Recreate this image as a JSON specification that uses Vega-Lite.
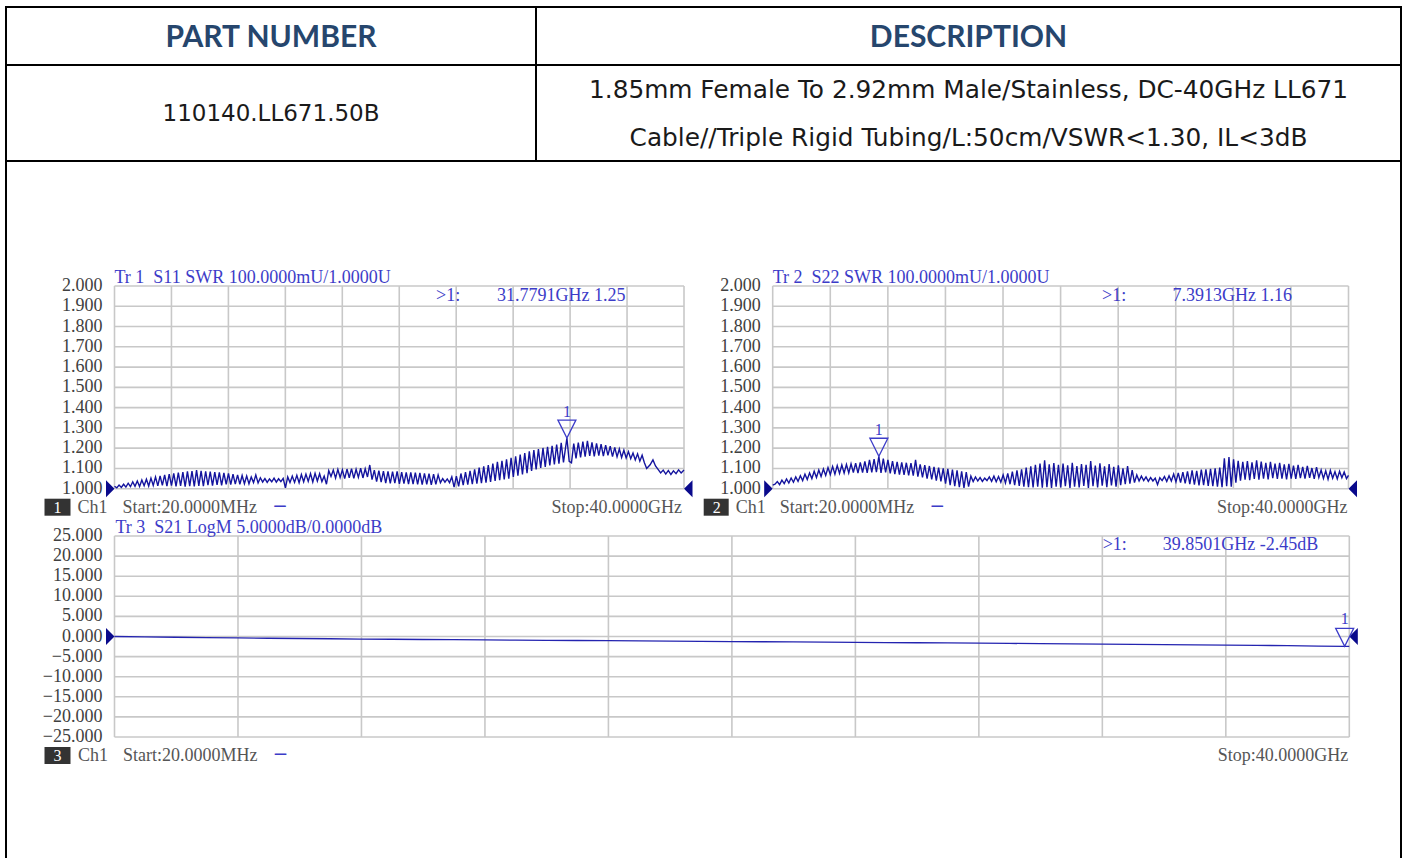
{
"$schema":"https://vega.github.io/schema/vega-lite/v6.json",
"background":"white",
"padding":{"left":5,"top":5,"right":5,"bottom":0},
"spacing":0,
"bounds":"flush",
"config":{"view":{"stroke":"#000000","strokeWidth":2}},
"datasets":{
"freq":[{"f":0.02},{"f":4.018},{"f":8.016},{"f":12.014},{"f":16.012},{"f":20.01},{"f":24.008},{"f":28.006},{"f":32.004},{"f":36.002},{"f":40}],
"swr":[{"v":1.0},{"v":1.1},{"v":1.2},{"v":1.3},{"v":1.4},{"v":1.5},{"v":1.6},{"v":1.7},{"v":1.8},{"v":1.9},{"v":2.0}],
"db":[{"v":-25},{"v":-20},{"v":-15},{"v":-10},{"v":-5},{"v":0},{"v":5},{"v":10},{"v":15},{"v":20},{"v":25}],
"chan":[
{"trace":"S11","n":"1","ch":"Ch1","start":"Start:20.0000MHz","stop":"Stop:40.0000GHz","title":"Tr 1 \u00a0S11 SWR 100.0000mU/1.0000U"},
{"trace":"S22","n":"2","ch":"Ch1","start":"Start:20.0000MHz","stop":"Stop:40.0000GHz","title":"Tr 2 \u00a0S22 SWR 100.0000mU/1.0000U"},
{"trace":"S21","n":"3","ch":"Ch1","start":"Start:20.0000MHz","stop":"Stop:40.0000GHz","title":"Tr 3 \u00a0S21 LogM 5.0000dB/0.0000dB"}],
"markers":[
{"trace":"S11","id":"1","f":31.7791,"v":1.25,"readout":"31.7791GHz 1.25"},
{"trace":"S22","id":"1","f":7.3913,"v":1.16,"readout":"7.3913GHz 1.16"},
{"trace":"S21","id":"1","f":39.8501,"v":-2.45,"readout":"39.8501GHz -2.45dB"}],
"refs":[
{"trace":"S11","side":"left","f":0.02,"v":1.0},{"trace":"S11","side":"right","f":40,"v":1.0},
{"trace":"S22","side":"left","f":0.02,"v":1.0},{"trace":"S22","side":"right","f":40,"v":1.0},
{"trace":"S21","side":"left","f":0.02,"v":0},{"trace":"S21","side":"right","f":40,"v":0}],
"s11":[
{"f":0.02,"v":1.012},{"f":0.18,"v":1.004},{"f":0.34,"v":1.018},{"f":0.5,"v":1.006},{"f":0.66,"v":1.022},{"f":0.82,"v":1.008},{"f":0.98,"v":1.027},{"f":1.14,"v":1.01},{"f":1.3,"v":1.034},{"f":1.46,"v":1.012},
{"f":1.62,"v":1.038},{"f":1.78,"v":1.011},{"f":1.94,"v":1.043},{"f":2.1,"v":1.015},{"f":2.26,"v":1.047},{"f":2.42,"v":1.013},{"f":2.58,"v":1.052},{"f":2.74,"v":1.016},{"f":2.9,"v":1.058},{"f":3.06,"v":1.014},
{"f":3.22,"v":1.063},{"f":3.38,"v":1.017},{"f":3.54,"v":1.068},{"f":3.7,"v":1.013},{"f":3.86,"v":1.072},{"f":4.02,"v":1.015},{"f":4.18,"v":1.076},{"f":4.34,"v":1.011},{"f":4.5,"v":1.079},{"f":4.66,"v":1.014},
{"f":4.82,"v":1.082},{"f":4.98,"v":1.01},{"f":5.14,"v":1.085},{"f":5.3,"v":1.013},{"f":5.46,"v":1.087},{"f":5.62,"v":1.011},{"f":5.78,"v":1.092},{"f":5.94,"v":1.014},{"f":6.1,"v":1.088},{"f":6.26,"v":1.012},
{"f":6.42,"v":1.086},{"f":6.58,"v":1.017},{"f":6.74,"v":1.084},{"f":6.9,"v":1.015},{"f":7.06,"v":1.082},{"f":7.22,"v":1.019},{"f":7.38,"v":1.08},{"f":7.54,"v":1.017},{"f":7.7,"v":1.078},{"f":7.86,"v":1.021},
{"f":8.02,"v":1.076},{"f":8.18,"v":1.02},{"f":8.34,"v":1.072},{"f":8.5,"v":1.023},{"f":8.66,"v":1.068},{"f":8.82,"v":1.022},{"f":8.98,"v":1.065},{"f":9.14,"v":1.025},{"f":9.3,"v":1.063},{"f":9.46,"v":1.024},
{"f":9.62,"v":1.058},{"f":9.78,"v":1.03},{"f":9.94,"v":1.068},{"f":10.1,"v":1.028},{"f":10.26,"v":1.054},{"f":10.42,"v":1.033},{"f":10.58,"v":1.05},{"f":10.74,"v":1.031},{"f":10.9,"v":1.048},{"f":11.06,"v":1.034},
{"f":11.22,"v":1.052},{"f":11.38,"v":1.032},{"f":11.54,"v":1.049},{"f":11.7,"v":1.035},{"f":11.86,"v":1.051},{"f":12.02,"v":1.004},{"f":12.18,"v":1.058},{"f":12.34,"v":1.03},{"f":12.5,"v":1.062},{"f":12.66,"v":1.031},
{"f":12.82,"v":1.066},{"f":12.98,"v":1.029},{"f":13.14,"v":1.07},{"f":13.3,"v":1.034},{"f":13.46,"v":1.072},{"f":13.62,"v":1.036},{"f":13.78,"v":1.075},{"f":13.94,"v":1.033},{"f":14.1,"v":1.076},{"f":14.26,"v":1.038},
{"f":14.42,"v":1.074},{"f":14.58,"v":1.035},{"f":14.74,"v":1.062},{"f":14.9,"v":1.022},{"f":15.06,"v":1.089},{"f":15.22,"v":1.06},{"f":15.38,"v":1.092},{"f":15.54,"v":1.052},{"f":15.7,"v":1.095},{"f":15.86,"v":1.055},
{"f":16.02,"v":1.093},{"f":16.18,"v":1.05},{"f":16.34,"v":1.097},{"f":16.5,"v":1.054},{"f":16.66,"v":1.099},{"f":16.82,"v":1.051},{"f":16.98,"v":1.096},{"f":17.14,"v":1.056},{"f":17.3,"v":1.101},{"f":17.46,"v":1.053},
{"f":17.62,"v":1.098},{"f":17.78,"v":1.058},{"f":17.94,"v":1.117},{"f":18.1,"v":1.045},{"f":18.26,"v":1.092},{"f":18.42,"v":1.035},{"f":18.58,"v":1.089},{"f":18.74,"v":1.032},{"f":18.9,"v":1.087},{"f":19.06,"v":1.028},
{"f":19.22,"v":1.086},{"f":19.38,"v":1.026},{"f":19.54,"v":1.084},{"f":19.7,"v":1.027},{"f":19.86,"v":1.085},{"f":20.02,"v":1.024},{"f":20.18,"v":1.082},{"f":20.34,"v":1.025},{"f":20.5,"v":1.081},{"f":20.66,"v":1.022},
{"f":20.82,"v":1.08},{"f":20.98,"v":1.023},{"f":21.14,"v":1.079},{"f":21.3,"v":1.021},{"f":21.46,"v":1.078},{"f":21.62,"v":1.02},{"f":21.78,"v":1.076},{"f":21.94,"v":1.022},{"f":22.1,"v":1.074},{"f":22.26,"v":1.019},
{"f":22.42,"v":1.072},{"f":22.58,"v":1.021},{"f":22.74,"v":1.068},{"f":22.9,"v":1.03},{"f":23.06,"v":1.05},{"f":23.22,"v":1.032},{"f":23.38,"v":1.048},{"f":23.54,"v":1.03},{"f":23.7,"v":1.058},{"f":23.86,"v":1.008},
{"f":24.02,"v":1.062},{"f":24.18,"v":1.012},{"f":24.34,"v":1.075},{"f":24.5,"v":1.018},{"f":24.66,"v":1.082},{"f":24.82,"v":1.02},{"f":24.98,"v":1.088},{"f":25.14,"v":1.022},{"f":25.3,"v":1.096},{"f":25.46,"v":1.025},
{"f":25.62,"v":1.104},{"f":25.78,"v":1.027},{"f":25.94,"v":1.11},{"f":26.1,"v":1.03},{"f":26.26,"v":1.116},{"f":26.42,"v":1.034},{"f":26.58,"v":1.124},{"f":26.74,"v":1.038},{"f":26.9,"v":1.132},{"f":27.06,"v":1.042},
{"f":27.22,"v":1.138},{"f":27.38,"v":1.046},{"f":27.54,"v":1.145},{"f":27.7,"v":1.05},{"f":27.86,"v":1.152},{"f":28.02,"v":1.058},{"f":28.18,"v":1.16},{"f":28.34,"v":1.064},{"f":28.5,"v":1.168},{"f":28.66,"v":1.07},
{"f":28.82,"v":1.176},{"f":28.98,"v":1.077},{"f":29.14,"v":1.184},{"f":29.3,"v":1.088},{"f":29.46,"v":1.19},{"f":29.62,"v":1.095},{"f":29.78,"v":1.196},{"f":29.94,"v":1.102},{"f":30.1,"v":1.201},{"f":30.26,"v":1.108},
{"f":30.42,"v":1.206},{"f":30.58,"v":1.115},{"f":30.74,"v":1.212},{"f":30.9,"v":1.12},{"f":31.06,"v":1.218},{"f":31.22,"v":1.123},{"f":31.38,"v":1.226},{"f":31.54,"v":1.13},{"f":31.78,"v":1.25},{"f":31.94,"v":1.135},
{"f":32.1,"v":1.128},{"f":32.26,"v":1.222},{"f":32.42,"v":1.15},{"f":32.58,"v":1.228},{"f":32.74,"v":1.155},{"f":32.9,"v":1.232},{"f":33.06,"v":1.158},{"f":33.22,"v":1.236},{"f":33.38,"v":1.162},{"f":33.54,"v":1.228},
{"f":33.7,"v":1.16},{"f":33.86,"v":1.224},{"f":34.02,"v":1.163},{"f":34.18,"v":1.22},{"f":34.34,"v":1.161},{"f":34.5,"v":1.215},{"f":34.66,"v":1.164},{"f":34.82,"v":1.21},{"f":34.98,"v":1.158},{"f":35.14,"v":1.204},
{"f":35.3,"v":1.157},{"f":35.46,"v":1.196},{"f":35.62,"v":1.154},{"f":35.78,"v":1.19},{"f":35.94,"v":1.152},{"f":36.1,"v":1.183},{"f":36.26,"v":1.148},{"f":36.42,"v":1.176},{"f":36.58,"v":1.142},{"f":36.74,"v":1.172},
{"f":36.9,"v":1.136},{"f":37.06,"v":1.165},{"f":37.22,"v":1.128},{"f":37.38,"v":1.1},{"f":37.62,"v":1.118},{"f":37.82,"v":1.142},{"f":38.0,"v":1.112},{"f":38.18,"v":1.095},{"f":38.36,"v":1.078},{"f":38.54,"v":1.092},
{"f":38.72,"v":1.072},{"f":38.9,"v":1.09},{"f":39.08,"v":1.07},{"f":39.26,"v":1.088},{"f":39.44,"v":1.074},{"f":39.62,"v":1.093},{"f":39.8,"v":1.078},{"f":40.0,"v":1.092}],
"s22":[
{"f":0.02,"v":1.018},{"f":0.18,"v":1.022},{"f":0.34,"v":1.035},{"f":0.5,"v":1.02},{"f":0.66,"v":1.042},{"f":0.82,"v":1.025},{"f":0.98,"v":1.048},{"f":1.14,"v":1.028},{"f":1.3,"v":1.053},{"f":1.46,"v":1.032},
{"f":1.62,"v":1.058},{"f":1.78,"v":1.036},{"f":1.94,"v":1.064},{"f":2.1,"v":1.04},{"f":2.26,"v":1.072},{"f":2.42,"v":1.045},{"f":2.58,"v":1.078},{"f":2.74,"v":1.05},{"f":2.9,"v":1.086},{"f":3.06,"v":1.055},
{"f":3.22,"v":1.092},{"f":3.38,"v":1.06},{"f":3.54,"v":1.097},{"f":3.7,"v":1.065},{"f":3.86,"v":1.104},{"f":4.02,"v":1.07},{"f":4.18,"v":1.11},{"f":4.34,"v":1.072},{"f":4.5,"v":1.114},{"f":4.66,"v":1.075},
{"f":4.82,"v":1.117},{"f":4.98,"v":1.077},{"f":5.14,"v":1.12},{"f":5.3,"v":1.078},{"f":5.46,"v":1.123},{"f":5.62,"v":1.08},{"f":5.78,"v":1.126},{"f":5.94,"v":1.077},{"f":6.1,"v":1.13},{"f":6.26,"v":1.08},
{"f":6.42,"v":1.135},{"f":6.58,"v":1.078},{"f":6.74,"v":1.142},{"f":6.9,"v":1.08},{"f":7.06,"v":1.146},{"f":7.22,"v":1.082},{"f":7.39,"v":1.16},{"f":7.54,"v":1.078},{"f":7.7,"v":1.148},{"f":7.86,"v":1.08},
{"f":8.02,"v":1.142},{"f":8.18,"v":1.076},{"f":8.34,"v":1.136},{"f":8.5,"v":1.072},{"f":8.66,"v":1.132},{"f":8.82,"v":1.07},{"f":8.98,"v":1.13},{"f":9.14,"v":1.068},{"f":9.3,"v":1.128},{"f":9.46,"v":1.066},
{"f":9.62,"v":1.126},{"f":9.78,"v":1.064},{"f":9.94,"v":1.142},{"f":10.1,"v":1.06},{"f":10.26,"v":1.12},{"f":10.42,"v":1.056},{"f":10.58,"v":1.116},{"f":10.74,"v":1.05},{"f":10.9,"v":1.112},{"f":11.06,"v":1.046},
{"f":11.22,"v":1.108},{"f":11.38,"v":1.04},{"f":11.54,"v":1.104},{"f":11.7,"v":1.036},{"f":11.86,"v":1.1},{"f":12.02,"v":1.025},{"f":12.18,"v":1.098},{"f":12.34,"v":1.018},{"f":12.5,"v":1.094},{"f":12.66,"v":1.012},
{"f":12.82,"v":1.09},{"f":12.98,"v":1.008},{"f":13.14,"v":1.086},{"f":13.3,"v":1.004},{"f":13.46,"v":1.082},{"f":13.62,"v":1.01},{"f":13.78,"v":1.062},{"f":13.94,"v":1.035},{"f":14.1,"v":1.058},{"f":14.26,"v":1.038},
{"f":14.42,"v":1.055},{"f":14.58,"v":1.036},{"f":14.74,"v":1.052},{"f":14.9,"v":1.04},{"f":15.06,"v":1.058},{"f":15.22,"v":1.036},{"f":15.38,"v":1.062},{"f":15.54,"v":1.034},{"f":15.7,"v":1.06},{"f":15.86,"v":1.032},
{"f":16.02,"v":1.068},{"f":16.18,"v":1.028},{"f":16.34,"v":1.076},{"f":16.5,"v":1.022},{"f":16.66,"v":1.084},{"f":16.82,"v":1.018},{"f":16.98,"v":1.09},{"f":17.14,"v":1.014},{"f":17.3,"v":1.096},{"f":17.46,"v":1.01},
{"f":17.62,"v":1.104},{"f":17.78,"v":1.008},{"f":17.94,"v":1.11},{"f":18.1,"v":1.006},{"f":18.26,"v":1.118},{"f":18.42,"v":1.01},{"f":18.58,"v":1.124},{"f":18.74,"v":1.005},{"f":18.9,"v":1.14},{"f":19.06,"v":1.008},
{"f":19.22,"v":1.12},{"f":19.38,"v":1.004},{"f":19.54,"v":1.126},{"f":19.7,"v":1.01},{"f":19.86,"v":1.118},{"f":20.02,"v":1.006},{"f":20.18,"v":1.124},{"f":20.34,"v":1.012},{"f":20.5,"v":1.115},{"f":20.66,"v":1.004},
{"f":20.82,"v":1.128},{"f":20.98,"v":1.01},{"f":21.14,"v":1.112},{"f":21.3,"v":1.006},{"f":21.46,"v":1.122},{"f":21.62,"v":1.014},{"f":21.78,"v":1.118},{"f":21.94,"v":1.004},{"f":22.1,"v":1.136},{"f":22.26,"v":1.012},
{"f":22.42,"v":1.114},{"f":22.58,"v":1.006},{"f":22.74,"v":1.125},{"f":22.9,"v":1.015},{"f":23.06,"v":1.11},{"f":23.22,"v":1.008},{"f":23.38,"v":1.122},{"f":23.54,"v":1.016},{"f":23.7,"v":1.108},{"f":23.86,"v":1.01},
{"f":24.02,"v":1.115},{"f":24.18,"v":1.018},{"f":24.34,"v":1.1},{"f":24.5,"v":1.022},{"f":24.66,"v":1.112},{"f":24.82,"v":1.025},{"f":24.98,"v":1.092},{"f":25.14,"v":1.03},{"f":25.3,"v":1.068},{"f":25.46,"v":1.038},
{"f":25.62,"v":1.062},{"f":25.78,"v":1.04},{"f":25.94,"v":1.058},{"f":26.1,"v":1.036},{"f":26.26,"v":1.055},{"f":26.42,"v":1.038},{"f":26.58,"v":1.052},{"f":26.74,"v":1.02},{"f":26.9,"v":1.054},{"f":27.06,"v":1.04},
{"f":27.22,"v":1.06},{"f":27.38,"v":1.036},{"f":27.54,"v":1.064},{"f":27.7,"v":1.038},{"f":27.86,"v":1.072},{"f":28.02,"v":1.034},{"f":28.18,"v":1.078},{"f":28.34,"v":1.03},{"f":28.5,"v":1.082},{"f":28.66,"v":1.026},
{"f":28.82,"v":1.086},{"f":28.98,"v":1.022},{"f":29.14,"v":1.09},{"f":29.3,"v":1.02},{"f":29.46,"v":1.088},{"f":29.62,"v":1.016},{"f":29.78,"v":1.094},{"f":29.94,"v":1.018},{"f":30.1,"v":1.096},{"f":30.26,"v":1.014},
{"f":30.42,"v":1.098},{"f":30.58,"v":1.012},{"f":30.74,"v":1.1},{"f":30.9,"v":1.01},{"f":31.06,"v":1.104},{"f":31.22,"v":1.008},{"f":31.38,"v":1.15},{"f":31.54,"v":1.012},{"f":31.7,"v":1.156},{"f":31.86,"v":1.01},
{"f":32.02,"v":1.145},{"f":32.18,"v":1.03},{"f":32.34,"v":1.138},{"f":32.5,"v":1.04},{"f":32.66,"v":1.132},{"f":32.82,"v":1.045},{"f":32.98,"v":1.136},{"f":33.14,"v":1.042},{"f":33.3,"v":1.13},{"f":33.46,"v":1.048},
{"f":33.62,"v":1.14},{"f":33.78,"v":1.045},{"f":33.94,"v":1.134},{"f":34.1,"v":1.05},{"f":34.26,"v":1.128},{"f":34.42,"v":1.046},{"f":34.58,"v":1.132},{"f":34.74,"v":1.052},{"f":34.9,"v":1.124},{"f":35.06,"v":1.048},
{"f":35.22,"v":1.128},{"f":35.38,"v":1.05},{"f":35.54,"v":1.12},{"f":35.7,"v":1.046},{"f":35.86,"v":1.122},{"f":36.02,"v":1.05},{"f":36.18,"v":1.114},{"f":36.34,"v":1.048},{"f":36.5,"v":1.118},{"f":36.66,"v":1.052},
{"f":36.82,"v":1.108},{"f":36.98,"v":1.05},{"f":37.14,"v":1.112},{"f":37.3,"v":1.054},{"f":37.46,"v":1.102},{"f":37.62,"v":1.048},{"f":37.78,"v":1.106},{"f":37.94,"v":1.055},{"f":38.1,"v":1.092},{"f":38.26,"v":1.05},
{"f":38.42,"v":1.088},{"f":38.58,"v":1.046},{"f":38.74,"v":1.09},{"f":38.9,"v":1.052},{"f":39.06,"v":1.084},{"f":39.22,"v":1.048},{"f":39.38,"v":1.086},{"f":39.54,"v":1.054},{"f":39.7,"v":1.082},{"f":39.86,"v":1.05},{"f":40.0,"v":1.066}],
"s21":[
{"f":0.02,"v":0.0},{"f":1,"v":-0.1},{"f":2,"v":-0.19},{"f":3,"v":-0.27},{"f":4,"v":-0.36},{"f":5,"v":-0.43},{"f":6,"v":-0.5},{"f":7,"v":-0.56},{"f":8,"v":-0.63},{"f":9,"v":-0.68},
{"f":10,"v":-0.74},{"f":11,"v":-0.8},{"f":12,"v":-0.85},{"f":13,"v":-0.9},{"f":14,"v":-0.95},{"f":15,"v":-1.0},{"f":16,"v":-1.05},{"f":17,"v":-1.1},{"f":18,"v":-1.15},{"f":19,"v":-1.2},
{"f":20,"v":-1.25},{"f":21,"v":-1.3},{"f":22,"v":-1.35},{"f":23,"v":-1.4},{"f":24,"v":-1.45},{"f":25,"v":-1.5},{"f":26,"v":-1.56},{"f":27,"v":-1.61},{"f":28,"v":-1.67},{"f":29,"v":-1.72},
{"f":30,"v":-1.78},{"f":31,"v":-1.83},{"f":32,"v":-1.89},{"f":33,"v":-1.95},{"f":34,"v":-2.01},{"f":35,"v":-2.07},{"f":36,"v":-2.13},{"f":37,"v":-2.2},{"f":38,"v":-2.29},{"f":39,"v":-2.38},{"f":39.85,"v":-2.45},{"f":40,"v":-2.46}]
},
"vconcat":[
{"width":1395,"height":58,
 "layer":[
  {"data":{"values":[{"edge":"divider"}]},"mark":{"type":"rule","color":"#000000","strokeWidth":2},"encoding":{"x":{"value":530},"y":{"value":0},"y2":{"value":"height"}}},
  {"data":{"values":[{"col":"PART NUMBER","t":"PART NUMBER"},{"col":"DESCRIPTION","t":"DESCRIPTION"}]},"mark":{"type":"text","font":"Lato","fontWeight":"bold","fontSize":30,"color":"#26466d","baseline":"middle","dy":2},"encoding":{"x":{"field":"col","type":"nominal","scale":{"type":"point","domain":["PART NUMBER","DESCRIPTION"],"range":[265,962.5],"padding":0},"axis":null},"text":{"field":"t","type":"nominal"}}}
 ]},
{"width":1395,"height":96,
 "layer":[
  {"data":{"values":[{"edge":"divider"}]},"mark":{"type":"rule","color":"#000000","strokeWidth":2},"encoding":{"x":{"value":530},"y":{"value":0},"y2":{"value":"height"}}},
  {"data":{"values":[{"col":"PART NUMBER","t":"110140.LL671.50B"}]},"mark":{"type":"text","font":"DejaVu Sans","fontSize":23,"color":"#1a1a1a","baseline":"middle","dy":1},"encoding":{"x":{"field":"col","type":"nominal","scale":{"type":"point","domain":["PART NUMBER","DESCRIPTION"],"range":[265,962.5],"padding":0},"axis":null},"text":{"field":"t","type":"nominal"}}},
  {"data":{"values":[{"col":"DESCRIPTION","line":"first","t":"1.85mm Female To 2.92mm Male/Stainless, DC-40GHz LL671"},{"col":"DESCRIPTION","line":"second","t":"Cable//Triple Rigid Tubing/L:50cm/VSWR<1.30, IL<3dB"}]},"mark":{"type":"text","font":"DejaVu Sans","fontSize":24.8,"color":"#1a1a1a","baseline":"middle"},"encoding":{"x":{"field":"col","type":"nominal","axis":null},"y":{"field":"line","type":"nominal","scale":{"type":"point","domain":["first","second"],"range":[26,74],"padding":0},"axis":null},"text":{"field":"t","type":"nominal"}}}
 ]},
{"width":1395,"height":697,"view":{"stroke":null},
 "resolve":{"scale":{"x":"independent","y":"independent"}},
 "layer":[
  {"data":{"values":[{"side":"left"}]},"mark":{"type":"rule","color":"#000000","strokeWidth":2},"encoding":{"x":{"value":0},"y":{"value":0},"y2":{"value":"height"}}},
  {"data":{"values":[{"side":"right"}]},"mark":{"type":"rule","color":"#000000","strokeWidth":2},"encoding":{"x":{"value":"width"},"y":{"value":0},"y2":{"value":"height"}}},
  {"layer":[
   {"data":{"name":"freq"},"mark":{"type":"rule","color":"#c8c8c8","strokeWidth":1.6},"encoding":{"x":{"field":"f","type":"quantitative","scale":{"domain":[0.02,40],"range":[108.5,678],"nice":false,"zero":false},"axis":null},"y":{"datum":1,"type":"quantitative","scale":{"domain":[1,2],"range":[327.7,125],"nice":false,"zero":false},"axis":null},"y2":{"datum":2}}},
   {"data":{"name":"swr"},"mark":{"type":"rule","color":"#c8c8c8","strokeWidth":1.6},"encoding":{"y":{"field":"v","type":"quantitative","axis":null},"x":{"datum":0.02,"type":"quantitative","axis":null},"x2":{"datum":40}}},
   {"data":{"name":"swr"},"mark":{"type":"text","align":"right","baseline":"middle","dx":-12,"font":"Liberation Serif","fontSize":18,"color":"#404040"},"encoding":{"y":{"field":"v","type":"quantitative","axis":null},"x":{"datum":0.02,"type":"quantitative","axis":null},"text":{"field":"v","type":"quantitative","format":".3f"}}},
   {"data":{"name":"s11"},"mark":{"type":"line","color":"#14149e","strokeWidth":1.4},"encoding":{"x":{"field":"f","type":"quantitative","axis":null},"y":{"field":"v","type":"quantitative","axis":null}}},
   {"data":{"name":"refs"},"transform":[{"filter":"datum.trace == 'S11'"}],"mark":{"type":"point","filled":true,"size":289,"color":"#0a0a8c","opacity":1},"encoding":{"x":{"field":"f","type":"quantitative","axis":null},"y":{"field":"v","type":"quantitative","axis":null},"shape":{"field":"side","type":"nominal","scale":{"domain":["left","right"],"range":["M-1,-1L0,0L-1,1Z","M1,-1L0,0L1,1Z"]},"legend":null}}},
   {"data":{"name":"markers"},"transform":[{"filter":"datum.trace == 'S11'"}],"mark":{"type":"point","shape":"M-1,-2L1,-2L0,0Z","size":324,"filled":false,"color":"#3c3cc8","strokeWidth":1.3,"opacity":1},"encoding":{"x":{"field":"f","type":"quantitative","axis":null},"y":{"field":"v","type":"quantitative","axis":null}}},
   {"data":{"name":"markers"},"transform":[{"filter":"datum.trace == 'S11'"}],"mark":{"type":"text","dy":-26,"baseline":"middle","font":"Liberation Serif","fontSize":16,"color":"#3c3cc8"},"encoding":{"x":{"field":"f","type":"quantitative","axis":null},"y":{"field":"v","type":"quantitative","axis":null},"text":{"field":"id","type":"nominal"}}},
   {"data":{"name":"markers"},"transform":[{"filter":"datum.trace == 'S11'"}],"mark":{"type":"text","align":"left","baseline":"middle","dx":-248,"dy":10,"font":"Liberation Serif","fontSize":18,"color":"#3c3cc8","text":">1:"},"encoding":{"x":{"datum":40,"type":"quantitative","axis":null},"y":{"datum":2,"type":"quantitative","axis":null}}},
   {"data":{"name":"markers"},"transform":[{"filter":"datum.trace == 'S11'"}],"mark":{"type":"text","align":"left","baseline":"middle","dx":-187,"dy":10,"font":"Liberation Serif","fontSize":18,"color":"#3c3cc8"},"encoding":{"x":{"datum":40,"type":"quantitative","axis":null},"y":{"datum":2,"type":"quantitative","axis":null},"text":{"field":"readout","type":"nominal"}}},
   {"data":{"name":"chan"},"transform":[{"filter":"datum.trace == 'S11'"}],"mark":{"type":"text","align":"left","baseline":"alphabetic","dy":-3,"font":"Liberation Serif","fontSize":18,"color":"#3c3cc8"},"encoding":{"x":{"datum":0.02,"type":"quantitative","axis":null},"y":{"datum":2,"type":"quantitative","axis":null},"text":{"field":"title","type":"nominal"}}},
   {"data":{"name":"chan"},"transform":[{"filter":"datum.trace == 'S11'"}],"mark":{"type":"point","shape":"M-7.0,1.0H-4.4V2.7H-7.0Z","size":400,"filled":true,"color":"#333333","opacity":1},"encoding":{"x":{"datum":0.02,"type":"quantitative","axis":null},"y":{"datum":1,"type":"quantitative","axis":null}}},
   {"data":{"name":"chan"},"transform":[{"filter":"datum.trace == 'S11'"}],"mark":{"type":"text","align":"center","baseline":"middle","dx":-57,"dy":19,"font":"Liberation Serif","fontSize":16,"color":"#ffffff"},"encoding":{"x":{"datum":0.02,"type":"quantitative","axis":null},"y":{"datum":1,"type":"quantitative","axis":null},"text":{"field":"n","type":"nominal"}}},
   {"data":{"name":"chan"},"transform":[{"filter":"datum.trace == 'S11'"}],"mark":{"type":"text","align":"left","baseline":"middle","dx":-37,"dy":19,"font":"Liberation Serif","fontSize":18,"color":"#555555"},"encoding":{"x":{"datum":0.02,"type":"quantitative","axis":null},"y":{"datum":1,"type":"quantitative","axis":null},"text":{"field":"ch","type":"nominal"}}},
   {"data":{"name":"chan"},"transform":[{"filter":"datum.trace == 'S11'"}],"mark":{"type":"text","align":"left","baseline":"middle","dx":8,"dy":19,"font":"Liberation Serif","fontSize":18,"color":"#555555"},"encoding":{"x":{"datum":0.02,"type":"quantitative","axis":null},"y":{"datum":1,"type":"quantitative","axis":null},"text":{"field":"start","type":"nominal"}}},
   {"data":{"name":"chan"},"transform":[{"filter":"datum.trace == 'S11'"}],"mark":{"type":"text","align":"left","baseline":"middle","dx":159,"dy":17,"font":"DejaVu Sans","fontWeight":"bold","fontSize":13,"color":"#3c3cc8","text":"—"},"encoding":{"x":{"datum":0.02,"type":"quantitative","axis":null},"y":{"datum":1,"type":"quantitative","axis":null}}},
   {"data":{"name":"chan"},"transform":[{"filter":"datum.trace == 'S11'"}],"mark":{"type":"text","align":"right","baseline":"middle","dx":-2,"dy":19,"font":"Liberation Serif","fontSize":18,"color":"#555555"},"encoding":{"x":{"datum":40,"type":"quantitative","axis":null},"y":{"datum":1,"type":"quantitative","axis":null},"text":{"field":"stop","type":"nominal"}}}
  ]},
  {"layer":[
   {"data":{"name":"freq"},"mark":{"type":"rule","color":"#c8c8c8","strokeWidth":1.6},"encoding":{"x":{"field":"f","type":"quantitative","scale":{"domain":[0.02,40],"range":[766.7,1342.5],"nice":false,"zero":false},"axis":null},"y":{"datum":1,"type":"quantitative","scale":{"domain":[1,2],"range":[327.7,125],"nice":false,"zero":false},"axis":null},"y2":{"datum":2}}},
   {"data":{"name":"swr"},"mark":{"type":"rule","color":"#c8c8c8","strokeWidth":1.6},"encoding":{"y":{"field":"v","type":"quantitative","axis":null},"x":{"datum":0.02,"type":"quantitative","axis":null},"x2":{"datum":40}}},
   {"data":{"name":"swr"},"mark":{"type":"text","align":"right","baseline":"middle","dx":-12,"font":"Liberation Serif","fontSize":18,"color":"#404040"},"encoding":{"y":{"field":"v","type":"quantitative","axis":null},"x":{"datum":0.02,"type":"quantitative","axis":null},"text":{"field":"v","type":"quantitative","format":".3f"}}},
   {"data":{"name":"s22"},"mark":{"type":"line","color":"#14149e","strokeWidth":1.4},"encoding":{"x":{"field":"f","type":"quantitative","axis":null},"y":{"field":"v","type":"quantitative","axis":null}}},
   {"data":{"name":"refs"},"transform":[{"filter":"datum.trace == 'S22'"}],"mark":{"type":"point","filled":true,"size":289,"color":"#0a0a8c","opacity":1},"encoding":{"x":{"field":"f","type":"quantitative","axis":null},"y":{"field":"v","type":"quantitative","axis":null},"shape":{"field":"side","type":"nominal","scale":{"domain":["left","right"],"range":["M-1,-1L0,0L-1,1Z","M1,-1L0,0L1,1Z"]},"legend":null}}},
   {"data":{"name":"markers"},"transform":[{"filter":"datum.trace == 'S22'"}],"mark":{"type":"point","shape":"M-1,-2L1,-2L0,0Z","size":324,"filled":false,"color":"#3c3cc8","strokeWidth":1.3,"opacity":1},"encoding":{"x":{"field":"f","type":"quantitative","axis":null},"y":{"field":"v","type":"quantitative","axis":null}}},
   {"data":{"name":"markers"},"transform":[{"filter":"datum.trace == 'S22'"}],"mark":{"type":"text","dy":-26,"baseline":"middle","font":"Liberation Serif","fontSize":16,"color":"#3c3cc8"},"encoding":{"x":{"field":"f","type":"quantitative","axis":null},"y":{"field":"v","type":"quantitative","axis":null},"text":{"field":"id","type":"nominal"}}},
   {"data":{"name":"markers"},"transform":[{"filter":"datum.trace == 'S22'"}],"mark":{"type":"text","align":"left","baseline":"middle","dx":-246.5,"dy":10,"font":"Liberation Serif","fontSize":18,"color":"#3c3cc8","text":">1:"},"encoding":{"x":{"datum":40,"type":"quantitative","axis":null},"y":{"datum":2,"type":"quantitative","axis":null}}},
   {"data":{"name":"markers"},"transform":[{"filter":"datum.trace == 'S22'"}],"mark":{"type":"text","align":"left","baseline":"middle","dx":-176,"dy":10,"font":"Liberation Serif","fontSize":18,"color":"#3c3cc8"},"encoding":{"x":{"datum":40,"type":"quantitative","axis":null},"y":{"datum":2,"type":"quantitative","axis":null},"text":{"field":"readout","type":"nominal"}}},
   {"data":{"name":"chan"},"transform":[{"filter":"datum.trace == 'S22'"}],"mark":{"type":"text","align":"left","baseline":"alphabetic","dy":-3,"font":"Liberation Serif","fontSize":18,"color":"#3c3cc8"},"encoding":{"x":{"datum":0.02,"type":"quantitative","axis":null},"y":{"datum":2,"type":"quantitative","axis":null},"text":{"field":"title","type":"nominal"}}},
   {"data":{"name":"chan"},"transform":[{"filter":"datum.trace == 'S22'"}],"mark":{"type":"point","shape":"M-6.9,1.0H-4.4V2.7H-6.9Z","size":400,"filled":true,"color":"#333333","opacity":1},"encoding":{"x":{"datum":0.02,"type":"quantitative","axis":null},"y":{"datum":1,"type":"quantitative","axis":null}}},
   {"data":{"name":"chan"},"transform":[{"filter":"datum.trace == 'S22'"}],"mark":{"type":"text","align":"center","baseline":"middle","dx":-56,"dy":19,"font":"Liberation Serif","fontSize":16,"color":"#ffffff"},"encoding":{"x":{"datum":0.02,"type":"quantitative","axis":null},"y":{"datum":1,"type":"quantitative","axis":null},"text":{"field":"n","type":"nominal"}}},
   {"data":{"name":"chan"},"transform":[{"filter":"datum.trace == 'S22'"}],"mark":{"type":"text","align":"left","baseline":"middle","dx":-37,"dy":19,"font":"Liberation Serif","fontSize":18,"color":"#555555"},"encoding":{"x":{"datum":0.02,"type":"quantitative","axis":null},"y":{"datum":1,"type":"quantitative","axis":null},"text":{"field":"ch","type":"nominal"}}},
   {"data":{"name":"chan"},"transform":[{"filter":"datum.trace == 'S22'"}],"mark":{"type":"text","align":"left","baseline":"middle","dx":7,"dy":19,"font":"Liberation Serif","fontSize":18,"color":"#555555"},"encoding":{"x":{"datum":0.02,"type":"quantitative","axis":null},"y":{"datum":1,"type":"quantitative","axis":null},"text":{"field":"start","type":"nominal"}}},
   {"data":{"name":"chan"},"transform":[{"filter":"datum.trace == 'S22'"}],"mark":{"type":"text","align":"left","baseline":"middle","dx":158,"dy":17,"font":"DejaVu Sans","fontWeight":"bold","fontSize":13,"color":"#3c3cc8","text":"—"},"encoding":{"x":{"datum":0.02,"type":"quantitative","axis":null},"y":{"datum":1,"type":"quantitative","axis":null}}},
   {"data":{"name":"chan"},"transform":[{"filter":"datum.trace == 'S22'"}],"mark":{"type":"text","align":"right","baseline":"middle","dx":-1,"dy":19,"font":"Liberation Serif","fontSize":18,"color":"#555555"},"encoding":{"x":{"datum":40,"type":"quantitative","axis":null},"y":{"datum":1,"type":"quantitative","axis":null},"text":{"field":"stop","type":"nominal"}}}
  ]},
  {"layer":[
   {"data":{"name":"freq"},"mark":{"type":"rule","color":"#c8c8c8","strokeWidth":1.6},"encoding":{"x":{"field":"f","type":"quantitative","scale":{"domain":[0.02,40],"range":[108.5,1343.3],"nice":false,"zero":false},"axis":null},"y":{"datum":-25,"type":"quantitative","scale":{"domain":[-25,25],"range":[576,375],"nice":false,"zero":false},"axis":null},"y2":{"datum":25}}},
   {"data":{"name":"db"},"mark":{"type":"rule","color":"#c8c8c8","strokeWidth":1.6},"encoding":{"y":{"field":"v","type":"quantitative","axis":null},"x":{"datum":0.02,"type":"quantitative","axis":null},"x2":{"datum":40}}},
   {"data":{"name":"db"},"mark":{"type":"text","align":"right","baseline":"middle","dx":-12,"font":"Liberation Serif","fontSize":18,"color":"#404040"},"encoding":{"y":{"field":"v","type":"quantitative","axis":null},"x":{"datum":0.02,"type":"quantitative","axis":null},"text":{"field":"v","type":"quantitative","format":".3f"}}},
   {"data":{"name":"s21"},"mark":{"type":"line","color":"#2424b0","strokeWidth":1.3},"encoding":{"x":{"field":"f","type":"quantitative","axis":null},"y":{"field":"v","type":"quantitative","axis":null}}},
   {"data":{"name":"refs"},"transform":[{"filter":"datum.trace == 'S21'"}],"mark":{"type":"point","filled":true,"size":289,"color":"#0a0a8c","opacity":1},"encoding":{"x":{"field":"f","type":"quantitative","axis":null},"y":{"field":"v","type":"quantitative","axis":null},"shape":{"field":"side","type":"nominal","scale":{"domain":["left","right"],"range":["M-1,-1L0,0L-1,1Z","M1,-1L0,0L1,1Z"]},"legend":null}}},
   {"data":{"name":"markers"},"transform":[{"filter":"datum.trace == 'S21'"}],"mark":{"type":"point","shape":"M-1,-2L1,-2L0,0Z","size":324,"filled":false,"color":"#3c3cc8","strokeWidth":1.3,"opacity":1},"encoding":{"x":{"field":"f","type":"quantitative","axis":null},"y":{"field":"v","type":"quantitative","axis":null}}},
   {"data":{"name":"markers"},"transform":[{"filter":"datum.trace == 'S21'"}],"mark":{"type":"text","dy":-27,"baseline":"middle","font":"Liberation Serif","fontSize":16,"color":"#3c3cc8"},"encoding":{"x":{"field":"f","type":"quantitative","axis":null},"y":{"field":"v","type":"quantitative","axis":null},"text":{"field":"id","type":"nominal"}}},
   {"data":{"name":"markers"},"transform":[{"filter":"datum.trace == 'S21'"}],"mark":{"type":"text","align":"left","baseline":"middle","dx":-246.6,"dy":9,"font":"Liberation Serif","fontSize":18,"color":"#3c3cc8","text":">1:"},"encoding":{"x":{"datum":40,"type":"quantitative","axis":null},"y":{"datum":25,"type":"quantitative","axis":null}}},
   {"data":{"name":"markers"},"transform":[{"filter":"datum.trace == 'S21'"}],"mark":{"type":"text","align":"left","baseline":"middle","dx":-186.6,"dy":9,"font":"Liberation Serif","fontSize":18,"color":"#3c3cc8"},"encoding":{"x":{"datum":40,"type":"quantitative","axis":null},"y":{"datum":25,"type":"quantitative","axis":null},"text":{"field":"readout","type":"nominal"}}},
   {"data":{"name":"chan"},"transform":[{"filter":"datum.trace == 'S21'"}],"mark":{"type":"text","align":"left","baseline":"alphabetic","dy":-3,"dx":1,"font":"Liberation Serif","fontSize":18,"color":"#3c3cc8"},"encoding":{"x":{"datum":0.02,"type":"quantitative","axis":null},"y":{"datum":25,"type":"quantitative","axis":null},"text":{"field":"title","type":"nominal"}}},
   {"data":{"name":"chan"},"transform":[{"filter":"datum.trace == 'S21'"}],"mark":{"type":"point","shape":"M-7.0,1.0H-4.4V2.7H-7.0Z","size":400,"filled":true,"color":"#333333","opacity":1},"encoding":{"x":{"datum":0.02,"type":"quantitative","axis":null},"y":{"datum":-25,"type":"quantitative","axis":null}}},
   {"data":{"name":"chan"},"transform":[{"filter":"datum.trace == 'S21'"}],"mark":{"type":"text","align":"center","baseline":"middle","dx":-57,"dy":19,"font":"Liberation Serif","fontSize":16,"color":"#ffffff"},"encoding":{"x":{"datum":0.02,"type":"quantitative","axis":null},"y":{"datum":-25,"type":"quantitative","axis":null},"text":{"field":"n","type":"nominal"}}},
   {"data":{"name":"chan"},"transform":[{"filter":"datum.trace == 'S21'"}],"mark":{"type":"text","align":"left","baseline":"middle","dx":-36.5,"dy":19,"font":"Liberation Serif","fontSize":18,"color":"#555555"},"encoding":{"x":{"datum":0.02,"type":"quantitative","axis":null},"y":{"datum":-25,"type":"quantitative","axis":null},"text":{"field":"ch","type":"nominal"}}},
   {"data":{"name":"chan"},"transform":[{"filter":"datum.trace == 'S21'"}],"mark":{"type":"text","align":"left","baseline":"middle","dx":8.5,"dy":19,"font":"Liberation Serif","fontSize":18,"color":"#555555"},"encoding":{"x":{"datum":0.02,"type":"quantitative","axis":null},"y":{"datum":-25,"type":"quantitative","axis":null},"text":{"field":"start","type":"nominal"}}},
   {"data":{"name":"chan"},"transform":[{"filter":"datum.trace == 'S21'"}],"mark":{"type":"text","align":"left","baseline":"middle","dx":159.5,"dy":17,"font":"DejaVu Sans","fontWeight":"bold","fontSize":13,"color":"#3c3cc8","text":"—"},"encoding":{"x":{"datum":0.02,"type":"quantitative","axis":null},"y":{"datum":-25,"type":"quantitative","axis":null}}},
   {"data":{"name":"chan"},"transform":[{"filter":"datum.trace == 'S21'"}],"mark":{"type":"text","align":"right","baseline":"middle","dx":-1,"dy":19,"font":"Liberation Serif","fontSize":18,"color":"#555555"},"encoding":{"x":{"datum":40,"type":"quantitative","axis":null},"y":{"datum":-25,"type":"quantitative","axis":null},"text":{"field":"stop","type":"nominal"}}}
  ]}
 ]}
]
}
